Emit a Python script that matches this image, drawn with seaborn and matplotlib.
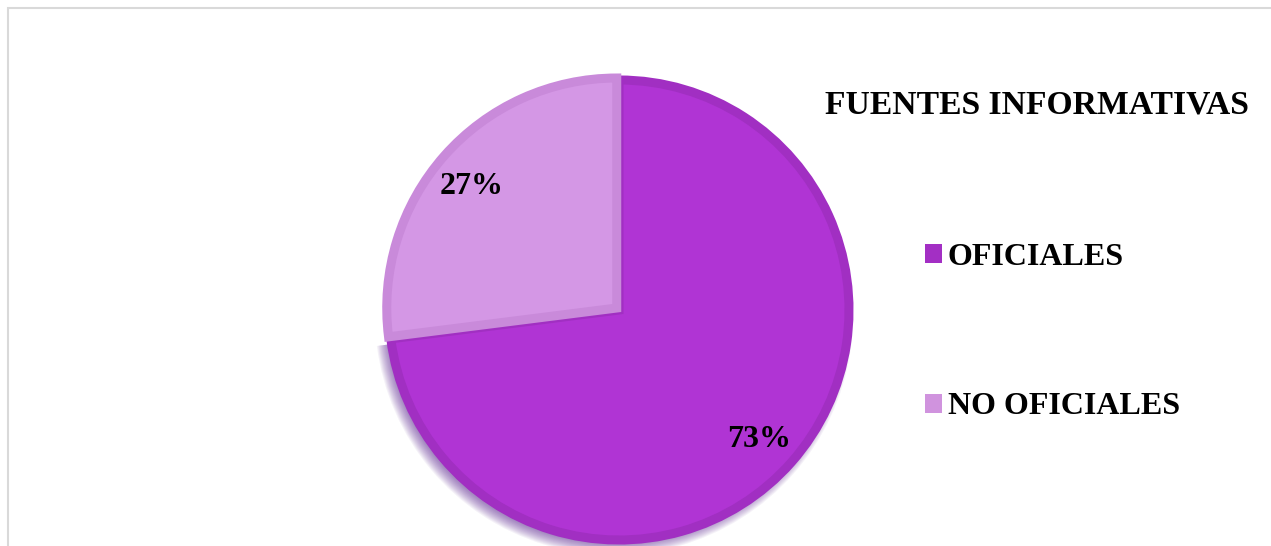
import matplotlib
matplotlib.use("Agg")
import matplotlib.pyplot as plt
from matplotlib.patches import Patch, Rectangle, Wedge
import numpy as np
import seaborn as sns

# data
categories = ["OFICIALES", "NO OFICIALES"]
shares = [73, 27]
legend_title = "FUENTES INFORMATIVAS"

# styling
fill_colors = ["#B034D4", "#D497E5"]
edge_colors = ["#A12FC2", "#C98ADA"]
key_colors = ["#A32FC4", "#D093DE"]
label_dist = [0.815, 0.84]
label_drop = 6  # px, nudges the percentage labels down a touch

sns.set_theme(style="white")
plt.rcParams["font.family"] = ["Liberation Serif", "DejaVu Serif"]

W, H = 1271, 546
fig = plt.figure(figsize=(W / 100, H / 100), dpi=100)
ax = fig.add_axes([0, 0, 1, 1])
cx, cy, R = 619, 236, 230

wedges, texts, autotexts = ax.pie(
    shares, colors=fill_colors, startangle=90, counterclock=False,
    radius=R, center=(cx, cy), explode=[0, 3],
    autopct="%.0f%%", pctdistance=0.8,
    wedgeprops=dict(linewidth=6.5),
    textprops=dict(fontsize=23, fontweight="bold", color="black"),
    frame=False,
)
for w, ec in zip(wedges, edge_colors):
    w.set_edgecolor(ec)

# soft drop shadow under the large slice
big = wedges[0]
for k in range(12):
    sh = Wedge((big.center[0] - 5, big.center[1] - 6), R + 9 - k,
               big.theta1, big.theta2, facecolor="#5A2290",
               edgecolor="none", alpha=0.06, zorder=0.5)
    ax.add_patch(sh)

# percentage labels placed along each slice's mid angle
for w, t, d in zip(wedges, autotexts, label_dist):
    th = np.deg2rad((w.theta1 + w.theta2) / 2)
    t.set_position((w.center[0] + d * R * np.cos(th),
                    w.center[1] + d * R * np.sin(th) - label_drop))

ax.set_xlim(0, W)
ax.set_ylim(0, H)
ax.set_aspect("equal")
ax.axis("off")

handles = [Patch(facecolor=c, edgecolor="none") for c in key_colors]
ax.legend(handles, categories, loc="upper left",
          bbox_to_anchor=(925 / W, 1 - 243 / H), bbox_transform=fig.transFigure,
          frameon=False, prop=dict(weight="bold", size=23), labelcolor="black",
          handlelength=0.53, handleheight=0.53, handletextpad=0.18,
          labelspacing=3.77, borderpad=0, borderaxespad=0)

fig.text(1037 / W, 1 - 105 / H, legend_title, ha="center", va="center",
         fontsize=24.2, fontweight="bold", color="black")

fig.add_artist(Rectangle((8 / W, -0.05), 1.1, (H - 8) / H + 0.05,
                         transform=fig.transFigure, fill=False,
                         edgecolor="#D9D9D9", linewidth=1.5))

fig.savefig("out.png", dpi=100, facecolor="white")
